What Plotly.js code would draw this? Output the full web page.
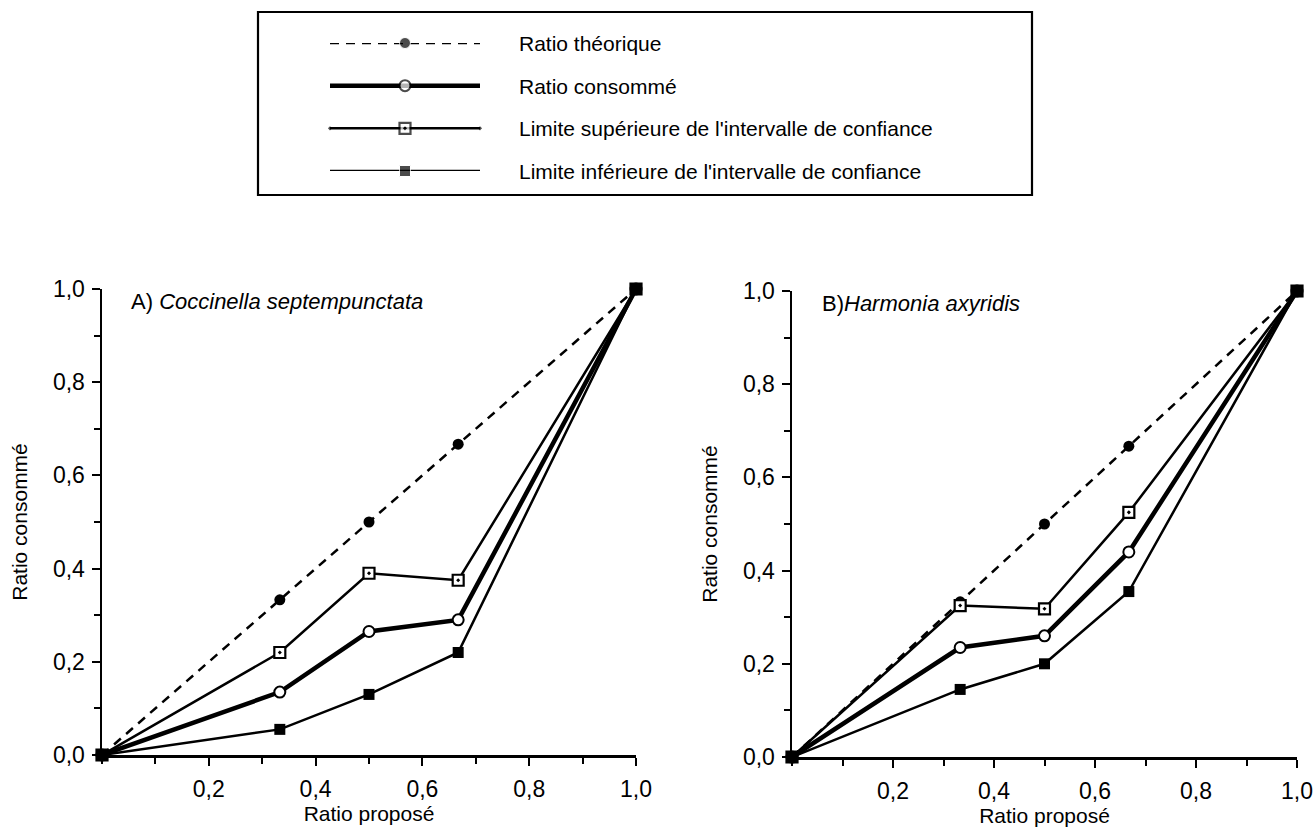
<!DOCTYPE html>
<html>
<head>
<meta charset="utf-8">
<script src="https://cdn.plot.ly/plotly-3.0.1.min.js"></script>
<style>
html,body{margin:0;padding:0;background:#fff;}
#chart{width:1315px;height:836px;}
</style>
</head>
<body>
<div id="chart"></div>
<script>
// ---- data ----
const ratioPropose = [0, 0.333, 0.5, 0.667, 1.0];

const theoriqueA = [0, 0.333, 0.5, 0.667, 1.0];
const consommeA  = [0, 0.135, 0.265, 0.29, 1.0];
const supA       = [0, 0.22, 0.39, 0.375, 1.0];
const infA       = [0, 0.055, 0.13, 0.22, 1.0];

const theoriqueB = [0, 0.333, 0.5, 0.667, 1.0];
const consommeB  = [0, 0.235, 0.26, 0.44, 1.0];
const supB       = [0, 0.325, 0.318, 0.525, 1.0];
const infB       = [0, 0.145, 0.2, 0.355, 1.0];

const seriesNames = ["Ratio théorique", "Ratio consommé",
  "Limite supérieure de l'intervalle de confiance",
  "Limite inférieure de l'intervalle de confiance"];
const panelTitles = ["A) <i>Coccinella septempunctata</i>", "B)<i>Harmonia axyridis</i>"];
const xTickVals = [0.2, 0.4, 0.6, 0.8, 1.0];
const yTickVals = [0, 0.2, 0.4, 0.6, 0.8, 1.0];
const xTitle = "Ratio proposé";
const yTitle = "Ratio consommé";

// ---- styles ----
const FONT = "Liberation Sans, Arial, Helvetica, sans-serif";
const styles = [
  {line:{color:'#000', width:2.5, dash:'9px,7px'}, marker:{symbol:'circle', size:11, color:'#000'}},
  {line:{color:'#000', width:4.5}, marker:{symbol:'circle', size:11, color:'#fff', line:{color:'#000', width:2}}},
  {line:{color:'#000', width:2.5}, marker:{symbol:'square-dot', size:11, color:'#fff', line:{color:'#000', width:2.2}}},
  {line:{color:'#000', width:2.5}, marker:{symbol:'square', size:11, color:'#000'}}
];

function panelTraces(ys, xa, ya){
  return ys.map((y,i)=>({
    type:'scatter', mode:'lines+markers', x:ratioPropose, y:y,
    xaxis:xa, yaxis:ya, name:seriesNames[i], showlegend:false,
    cliponaxis:false, line:styles[i].line, marker:styles[i].marker, hoverinfo:'x+y'
  }));
}

const traces = [
  ...panelTraces([theoriqueA, consommeA, supA, infA], 'x', 'y'),
  ...panelTraces([theoriqueB, consommeB, supB, infB], 'x2', 'y2')
];

// legend samples drawn in a hidden third subplot
const legendX = [0, 0.5, 1];
seriesNames.forEach((n,i)=>{
  traces.push({
    type:'scatter', mode:'lines+markers', x:legendX, y:[i,i,i],
    xaxis:'x3', yaxis:'y3', showlegend:false, hoverinfo:'skip', cliponaxis:false,
    line:styles[i].line,
    marker:Object.assign({}, styles[i].marker, {size:[0, styles[i].marker.size, 0]})
  });
});

const TICKSIZE = 23, TITLESIZE = 21;
function xAxis(domain, anchor){
  return {
    domain:domain, anchor:anchor, range:[0,1], showgrid:false, zeroline:false,
    showline:true, linecolor:'#000', linewidth:2.5, mirror:false,
    tickmode:'array', tickvals:xTickVals, tickformat:'.1f',
    ticks:'outside', ticklen:8, tickwidth:2, tickcolor:'#000', ticklabelstandoff:4,
    minor:{tickmode:'linear', tick0:0, dtick:0.1, ticks:'outside', ticklen:6, tickwidth:2, tickcolor:'#000'},
    tickfont:{family:FONT, size:TICKSIZE, color:'#000'},
    title:{text:xTitle, font:{family:FONT, size:TITLESIZE, color:'#000'}, standoff:4},
    fixedrange:true
  };
}
function yAxis(domain, anchor){
  return {
    domain:domain, anchor:anchor, range:[0,1], showgrid:false, zeroline:false,
    showline:true, linecolor:'#000', linewidth:2.5,
    tickmode:'array', tickvals:yTickVals, tickformat:'.1f',
    ticks:'outside', ticklen:8, tickwidth:2, tickcolor:'#000', ticklabelstandoff:2,
    minor:{tickmode:'linear', tick0:0, dtick:0.1, ticks:'outside', ticklen:6, tickwidth:2, tickcolor:'#000'},
    tickfont:{family:FONT, size:TICKSIZE, color:'#000'},
    title:{text:yTitle, font:{family:FONT, size:TITLESIZE, color:'#000'}, standoff:20},
    fixedrange:true
  };
}

const W = 1315, H = 836;
const px = v => v / W;
const py = v => 1 - v / H;

const legendRows = [43, 87, 128, 171];
const annotations = [
  {xref:'x domain', yref:'y domain', x:0.05, y:1.005, xanchor:'left', yanchor:'top',
   text:panelTitles[0], showarrow:false, font:{family:FONT, size:22, color:'#000'}},
  {xref:'x2 domain', yref:'y2 domain', x:0.055, y:1.005, xanchor:'left', yanchor:'top',
   text:panelTitles[1], showarrow:false, font:{family:FONT, size:22, color:'#000'}}
];
seriesNames.forEach((n,i)=>{
  annotations.push({xref:'paper', yref:'paper', x:px(517), y:py(legendRows[i]),
    xanchor:'left', yanchor:'middle', text:n, showarrow:false,
    font:{family:FONT, size:21, color:'#000'}});
});

const layout = {
  width:W, height:H, margin:{l:0, r:0, t:0, b:0},
  paper_bgcolor:'#fff', plot_bgcolor:'#fff', separators:', ',
  showlegend:false,
  xaxis:xAxis([px(102), px(636)], 'y'),
  yaxis:yAxis([py(755), py(289)], 'x'),
  xaxis2:xAxis([px(792), px(1297)], 'y2'),
  yaxis2:yAxis([py(757), py(291)], 'x2'),
  xaxis3:{domain:[px(330), px(480)], anchor:'y3', range:[0,1], visible:false, fixedrange:true},
  yaxis3:{domain:[py(legendRows[3]), py(legendRows[0])], anchor:'x3', range:[3,0], visible:false, fixedrange:true},
  annotations:annotations,
  shapes:[{type:'rect', xref:'paper', yref:'paper', x0:px(258), x1:px(1032), y0:py(195), y1:py(12),
    line:{color:'#000', width:2.2}, fillcolor:'rgba(0,0,0,0)'}]
};

Plotly.newPlot('chart', traces, layout, {displayModeBar:false, staticPlot:true});
</script>
</body>
</html>
